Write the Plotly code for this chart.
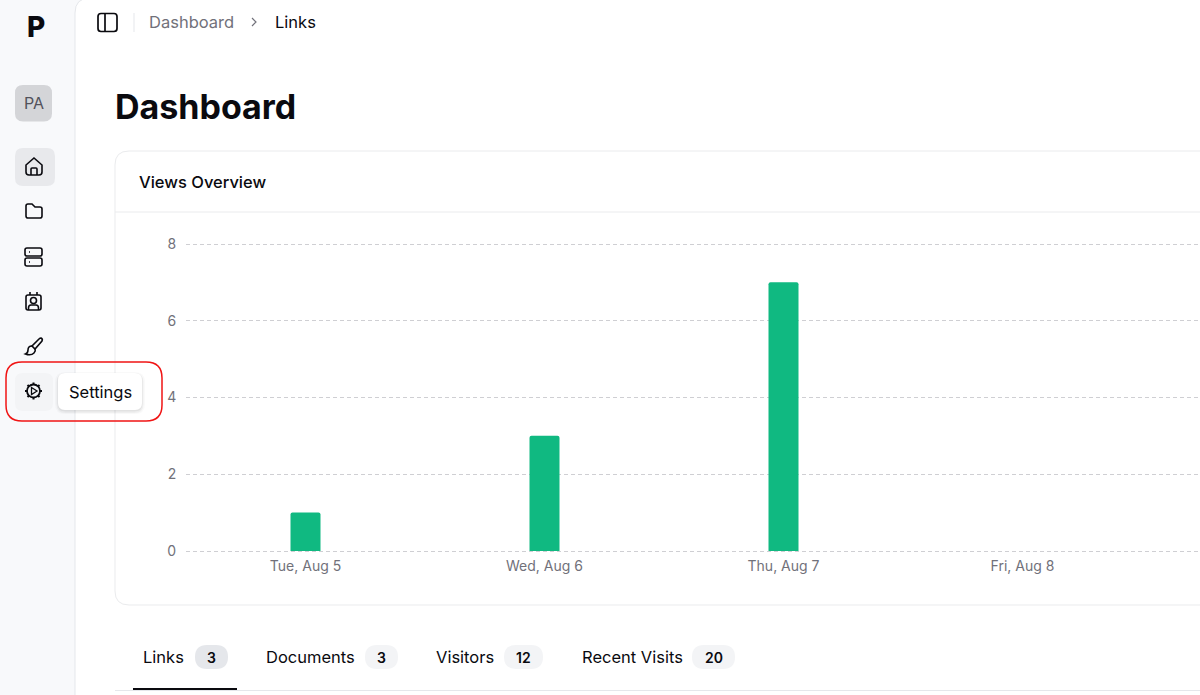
import re
import plotly.graph_objects as go

W = 1200
H = 695

# chart data
days = ["Tue, Aug 5", "Wed, Aug 6", "Thu, Aug 7", "Fri, Aug 8"]
views = [1, 3, 7, 0]
y_ticks = [0, 2, 4, 6, 8]

tab_names = ["Links", "Documents", "Visitors", "Recent Visits"]
tab_counts = [3, 3, 12, 20]

FONT = "Inter"
INK = "#0a0a0f"
GREY = "#71717a"
shapes = []
notes = []


# turns an svg style path in screen pixels into paper coords (absolute commands only)
def to_paper(d):
    idx = [0]

    def swap(m):
        v = float(m.group())
        i = idx[0]
        idx[0] += 1
        return f"{v / W:.5f}" if i % 2 == 0 else f"{1 - v / H:.5f}"

    return re.sub(r"-?\d+\.?\d*", swap, d)


def add_path(d, fill=None, line=None, lw=1.6, layer="below", opacity=1):
    shapes.append(dict(type="path", path=to_paper(d), xref="paper", yref="paper",
                       fillcolor=fill or "rgba(0,0,0,0)",
                       line=dict(color=line or "rgba(0,0,0,0)", width=lw if line else 0),
                       layer=layer, opacity=opacity))


def rrect_path(x0, y0, x1, y1, r):
    return (f"M{x0 + r},{y0} L{x1 - r},{y0} Q{x1},{y0} {x1},{y0 + r} L{x1},{y1 - r} "
            f"Q{x1},{y1} {x1 - r},{y1} L{x0 + r},{y1} Q{x0},{y1} {x0},{y1 - r} "
            f"L{x0},{y0 + r} Q{x0},{y0} {x0 + r},{y0} Z")


def rrect(x0, y0, x1, y1, r, **kw):
    add_path(rrect_path(x0, y0, x1, y1, r), **kw)


def circle(cx, cy, r, **kw):
    k = 0.5523 * r
    add_path(f"M{cx - r},{cy} C{cx - r},{cy - k} {cx - k},{cy - r} {cx},{cy - r} "
             f"C{cx + k},{cy - r} {cx + r},{cy - k} {cx + r},{cy} "
             f"C{cx + r},{cy + k} {cx + k},{cy + r} {cx},{cy + r} "
             f"C{cx - k},{cy + r} {cx - r},{cy + k} {cx - r},{cy} Z", **kw)


def text(x, y, s, size=16, color=INK, weight=400, anchor="left"):
    notes.append(dict(x=x / W, y=1 - y / H, xref="paper", yref="paper", text=s, showarrow=False,
                      xanchor=anchor, yanchor="middle", borderpad=0, borderwidth=0,
                      font=dict(family=FONT, size=size, color=color, weight=weight)))


# sidebar and main panel
add_path(f"M0,0 L{W},0 L{W},{H} L0,{H} Z", fill="#f8f9fb")
add_path(f"M{W + 5},-2 L90,-2 Q75,-2 75,13 L75,{H + 5} L{W + 5},{H + 5} Z", fill="#ffffff", line="#e5e7eb", lw=1)

# logo, avatar
text(36, 27, "P", size=28, weight=800, anchor="center")
rrect(15, 85, 52, 121.5, 8, fill="#d4d5d8")
text(33.5, 103, "PA", size=16, color="#52525b", anchor="center")

# sidebar icons
rrect(15, 148, 55, 186, 8, fill="#e8e9ec")
add_path("M26,165 L34,158 L42,165 L42,172 Q42,175 39,175 L29,175 Q26,175 26,172 Z", line=INK)
add_path("M31,175 L31,169 Q31,168 32,168 L36,168 Q37,168 37,169 L37,175", line=INK)
add_path("M28,204 L32,204 L35,207 L40,207 Q42,207 42,209 L42,216 Q42,218 40,218 L28,218 "
         "Q26,218 26,216 L26,206 Q26,204 28,204 Z", line=INK)
rrect(25, 248, 42, 256, 2, line=INK)
rrect(25, 258, 42, 266, 2, line=INK)
add_path("M29,252 L30,252", line=INK)
add_path("M29,262 L30,262", line=INK)
rrect(26, 295, 41, 310, 2, line=INK)
add_path("M30,292 L30,295 M37,292 L37,295", line=INK)
circle(33.5, 300.5, 3, line=INK)
add_path("M28.5,310 L28.5,308 Q28.5,305 31,305 L36,305 Q38.5,305 38.5,308 L38.5,310", line=INK)
add_path("M41,338 Q43,339 42,341 L35,349 L32,346 L39,339 Q40,338 41,338 Z", line=INK)
add_path("M32,346 Q28,346 28,350 Q28,353 25.5,354 Q31,356 34,353 Q36,351 35,349", line=INK)

# top bar
rrect(98, 13.5, 117, 31.5, 3, line=INK, lw=1.7)
add_path("M105,13.5 L105,31.5", line=INK, lw=1.7)
add_path("M134,13 L134,32", line="#e5e7eb", lw=1)
text(149, 22, "Dashboard", size=16.5, color=GREY)
add_path("M252,18 L256,22 L252,26", line=GREY, lw=1.2)
text(275, 22, "Links", size=16.5)
text(115, 107, "Dashboard", size=34, weight=700)

# card
rrect(115, 151, W + 30, 605, 14, fill="#ffffff", line="#eaebed", lw=1)
add_path(f"M115,212 L{W},212", line="#eaebed", lw=1)
text(139, 182, "Views Overview", size=16.5, weight=500)

# tooltip and highlight, after the card so it sits on top of it
rrect(15, 373, 53, 411, 8, fill="#f3f4f6")
circle(33.5, 391, 6.5, line=INK, lw=1.8)
add_path("M33.5,382.5 L33.5,384.5 M33.5,397.5 L33.5,399.5 M25,391 L27,391 M40,391 L42,391 "
         "M27.5,385 L29,386.5 M38,395.5 L39.5,397 M27.5,397 L29,395.5 M38,386.5 L39.5,385", line=INK, lw=2)
add_path("M31.5,387.5 L37,391 L31.5,394.5 Z", line=INK, lw=1.3)
rrect(55, 372, 145, 414, 10, fill="#000000", opacity=0.025)
rrect(56.5, 373, 143.5, 413, 9, fill="#000000", opacity=0.04)
rrect(57.5, 373, 142.5, 411.5, 8, fill="#000000", opacity=0.05)
rrect(58, 373, 142, 410, 7, fill="#ffffff")
text(100, 391.5, "Settings", size=16.5, anchor="center")
rrect(6, 362, 162, 421, 16, line="#f01414", lw=1.5, layer="above")

# tabs
tab_text_x = [143, 266, 436, 582]
badges = [(195, 228), (365, 398), (504, 543), (692, 735)]
for i, name in enumerate(tab_names):
    text(tab_text_x[i], 657, name, size=16.5)
    b0, b1 = badges[i]
    rrect(b0, 645, b1, 669, 12, fill="#e5e7eb" if i == 0 else "#f3f4f6")
    text((b0 + b1) / 2, 657, str(tab_counts[i]), size=14, weight=600, anchor="center")
add_path(f"M115,690.5 L{W},690.5", line="#e5e7eb", lw=1)
add_path("M133,689 L237,689", line=INK, lw=2)

fig = go.Figure(go.Bar(x=days, y=views, width=30 / 239, marker=dict(color="#10b981", line=dict(width=0))))

# a little spare room past 0 and 8, otherwise plotly clips those two gridlines
px_per_unit = (551 - 244) / 8
y_pad = 0.1

fig.update_layout(
    width=W, height=H, autosize=False,
    margin=dict(l=0, r=0, t=0, b=0),
    paper_bgcolor="#ffffff", plot_bgcolor="rgba(0,0,0,0)",
    barcornerradius=2,
    showlegend=False,
    font=dict(family=FONT),
    shapes=shapes,
    annotations=notes,
    xaxis=dict(type="category", domain=[186 / W, 1], anchor="y", automargin=False,
               range=[-0.5, (W - 186) / 239 - 0.5],
               showgrid=False, zeroline=False, showline=False,
               ticks="", ticklabelstandoff=1,
               tickfont=dict(family=FONT, size=14, color=GREY)),
    yaxis=dict(domain=[1 - (551 + y_pad * px_per_unit) / H, 1 - (244 - y_pad * px_per_unit) / H],
               automargin=False,
               range=[-y_pad, 8 + y_pad], tickvals=y_ticks,
               showgrid=True, gridcolor="#cfcfd3", griddash="4px,3px", gridwidth=1,
               zeroline=False, showline=False,
               ticks="outside", ticklen=6, tickcolor="rgba(0,0,0,0)",
               tickfont=dict(family=FONT, size=14, color=GREY)),
)

fig.write_html("out.html", config={"displayModeBar": False},
               post_script="document.body.style.margin = '0';")
